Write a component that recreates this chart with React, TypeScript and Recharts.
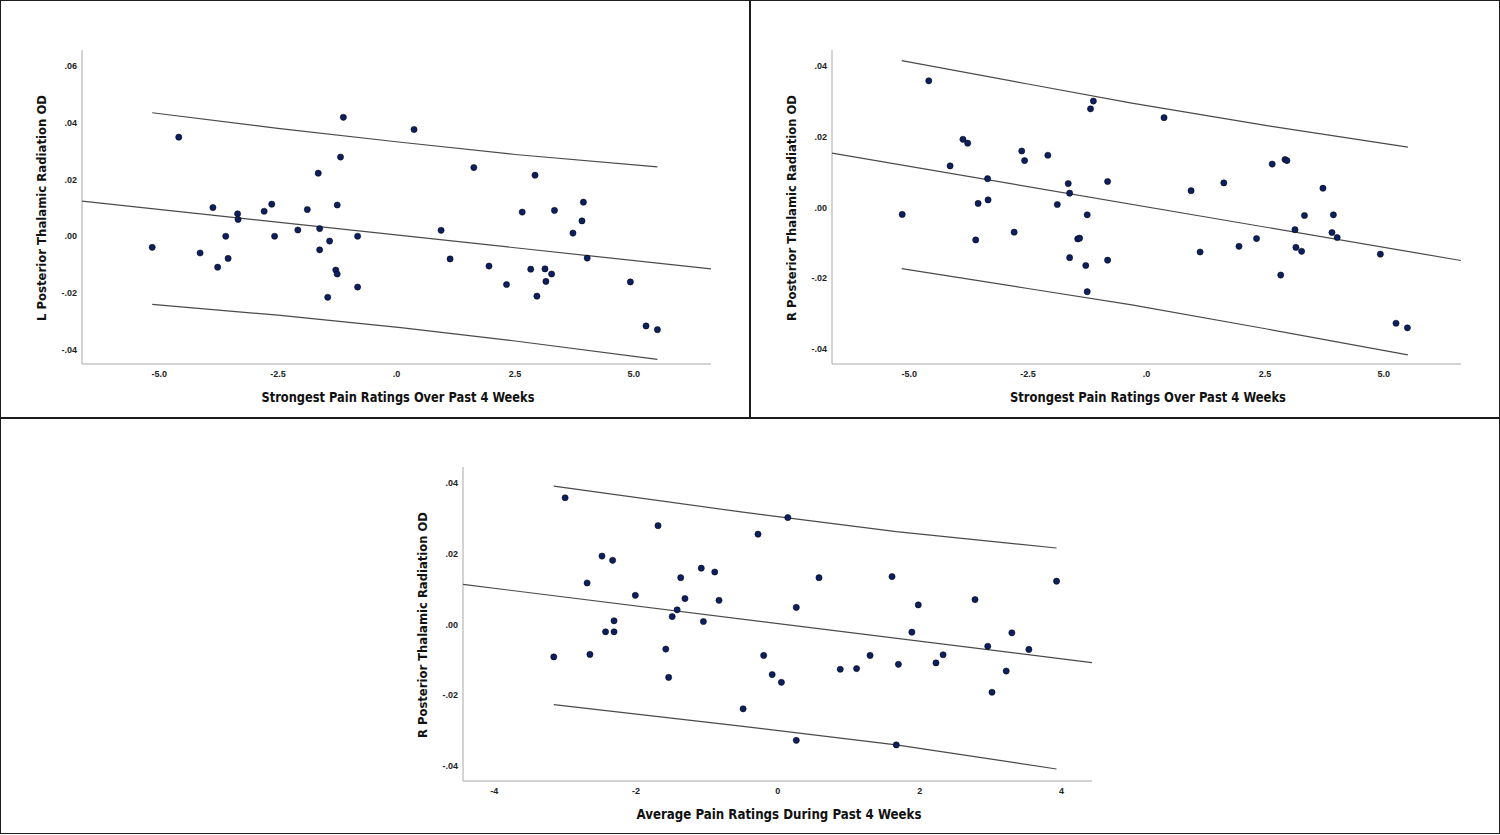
import React from "react";
import { ScatterChart, Scatter, XAxis, YAxis, Label } from "recharts";

// strongest pain ratings (x of both top panels)
const strongestPain = [
  -5.15, -4.59, -4.14, -3.87, -3.77, -3.6, -3.55, -3.35, -3.34, -2.79, -2.63, -2.57,
  -2.08, -1.88, -1.65, -1.62, -1.62, -1.45, -1.41, -1.28, -1.25, -1.25, -1.18, -1.12,
  -0.82, -0.82, 0.37, 0.94, 1.13, 1.63, 1.95, 2.32, 2.65, 2.83, 2.92, 2.96, 3.13, 3.15,
  3.27, 3.33, 3.72, 3.91, 3.94, 4.02, 4.93, 5.26, 5.5,
];
const leftOD = [
  -0.0039, 0.0349, -0.0059, 0.0101, -0.0109, 0.0, -0.0078, 0.0079, 0.0059, 0.0088, 0.0113, 0.0,
  0.0022, 0.0094, 0.0222, 0.0027, -0.0048, -0.0215, -0.0017, -0.0119, -0.0133, 0.011, 0.0279, 0.0419,
  0.0, -0.0179, 0.0376, 0.0021, -0.008, 0.0242, -0.0105, -0.017, 0.0085, -0.0116, 0.0215, -0.0211,
  -0.0115, -0.0159, -0.0133, 0.0091, 0.0011, 0.0054, 0.012, -0.0077, -0.0161, -0.0316, -0.0329,
];
const rightOD = [
  -0.002, 0.0357, 0.0117, 0.0192, 0.0181, -0.0092, 0.0011, 0.0081, 0.0021, -0.007, 0.0159, 0.0132,
  0.0147, 0.0008, 0.0067, 0.004, -0.0142, -0.0089, -0.0087, -0.0164, -0.0238, -0.0021, 0.0278, 0.03,
  0.0073, -0.0149, 0.0253, 0.0047, -0.0126, 0.0069, -0.011, -0.0088, 0.0122, -0.0191, 0.0135, 0.0132,
  -0.0063, -0.0113, -0.0124, -0.0023, 0.0054, -0.0071, -0.0021, -0.0085, -0.0132, -0.0327, -0.034,
];

// average pain ratings (bottom panel)
const averagePain = [
  -3.16, -3.0, -2.69, -2.65, -2.48, -2.43, -2.33, -2.31, -2.31, -2.01, -1.69, -1.58,
  -1.54, -1.49, -1.42, -1.37, -1.31, -1.08, -1.05, -0.89, -0.83, -0.49, -0.28, -0.2,
  -0.08, 0.05, 0.14, 0.26, 0.26, 0.58, 0.88, 1.11, 1.3, 1.61, 1.67, 1.7, 1.89, 1.98,
  2.23, 2.33, 2.78, 2.96, 3.02, 3.22, 3.3, 3.54, 3.93,
];
const rightODAvg = [
  -0.0092, 0.0358, 0.0117, -0.0085, 0.0193, -0.0021, 0.0181, 0.001, -0.0021, 0.0082, 0.0279, -0.007,
  -0.015, 0.0022, 0.0041, 0.0132, 0.0073, 0.0159, 0.0008, 0.0148, 0.0068, -0.0239, 0.0255, -0.0088,
  -0.0142, -0.0164, 0.0302, 0.0048, -0.0328, 0.0132, -0.0127, -0.0125, -0.0088, 0.0135, -0.0341, -0.0113,
  -0.0022, 0.0055, -0.0109, -0.0086, 0.007, -0.0062, -0.0192, -0.0132, -0.0024, -0.0071, 0.0122,
];

// fit lines (ends at the axis limits) and prediction bands
const fitXStrong = [-6.63, 6.63];
const fitLeft = [0.0124, -0.0115];
const fitRight = [0.0153, -0.015];
const fitXAvg = [-4.44, 4.43];
const fitAvg = [0.0113, -0.0108];

const bandXLeft = [-5.15, -2.5, 0.09, 2.5, 5.5];
const upperLeft = [0.0435, 0.038, 0.0331, 0.0288, 0.0244];
const lowerLeft = [-0.024, -0.0278, -0.0322, -0.0369, -0.0434];

const bandXRight = [-5.16, -2.5, -0.31, 2.57, 5.51];
const upperRight = [0.0414, 0.0348, 0.0294, 0.023, 0.017];
const lowerRight = [-0.0173, -0.0229, -0.0275, -0.0344, -0.0416];

const bandXAvg = [-3.16, -0.52, 1.67, 3.93];
const upperAvg = [0.0391, 0.0318, 0.0262, 0.0216];
const lowerAvg = [-0.0227, -0.0288, -0.0341, -0.0409];

const zip = (xs: number[], ys: number[]) => xs.map((x, i) => ({ x, y: ys[i] }));

const fmtY = (v: number) => v.toFixed(2).replace(/^(-?)0\./, "$1.");
const fmtX1 = (v: number) => v.toFixed(1).replace(/^(-?)0\./, "$1.");
const fmtX0 = (v: number) => String(v);

const tickFont = { fontSize: 9, fill: "#222", fontWeight: 700, fontFamily: "'Liberation Sans', Arial, sans-serif" };
const lineColor = "#4a4a4a";

const Dot = (p: any) => <circle cx={p.cx} cy={p.cy} r={3.1} fill="#0c1f5e" stroke="#000" strokeWidth={0.5} />;
const NoDot = () => <g />;

function Panel(props: any) {
  const { left, top, pts, fit, upper, lower, xDomain, yDomain, xTicks, yTicks, xFmt, xTitle, xTitleLen, yTitle } = props;
  return (
    <div style={{ position: "absolute", left, top }}>
      <ScatterChart width={750} height={417} margin={{ top: 50, right: 39, bottom: 0, left: 22 }}>
        <XAxis
          type="number"
          dataKey="x"
          domain={xDomain}
          ticks={xTicks}
          interval={0}
          tickFormatter={xFmt}
          tickLine={false}
          tickSize={4}
          tickMargin={3}
          height={53}
          stroke="#a8a8a8"
          tick={tickFont}
          allowDataOverflow
        >
          <Label
            content={() => (
              <text x={398} y={402} textAnchor="middle" fontSize={14.5} fontWeight={700} fill="#111"
                textLength={xTitleLen} lengthAdjust="spacingAndGlyphs"
                fontFamily="'DejaVu Sans Condensed', 'DejaVu Sans', Arial, sans-serif">
                {xTitle}
              </text>
            )}
          />
        </XAxis>
        <YAxis
          type="number"
          dataKey="y"
          domain={yDomain}
          ticks={yTicks}
          interval={0}
          tickFormatter={fmtY}
          tickLine={false}
          tickSize={2}
          tickMargin={3}
          width={60}
          stroke="#a8a8a8"
          tick={tickFont}
          allowDataOverflow
        >
          <Label
            content={() => (
              <text x={42} y={208} transform="rotate(-90 42 208)" textAnchor="middle" dominantBaseline="central"
                fontSize={11.5} fontWeight={700} fill="#111" textLength={226} lengthAdjust="spacingAndGlyphs"
                fontFamily="'DejaVu Sans', Verdana, sans-serif">
                {yTitle}
              </text>
            )}
          />
        </YAxis>
        <Scatter data={fit} line={{ stroke: lineColor, strokeWidth: 1.2 }} lineType="joint" shape={NoDot} isAnimationActive={false} />
        <Scatter data={upper} line={{ stroke: lineColor, strokeWidth: 1.2 }} lineType="joint" shape={NoDot} isAnimationActive={false} />
        <Scatter data={lower} line={{ stroke: lineColor, strokeWidth: 1.2 }} lineType="joint" shape={NoDot} isAnimationActive={false} />
        <Scatter data={pts} shape={Dot} isAnimationActive={false} />
      </ScatterChart>
    </div>
  );
}

const boxBase: React.CSSProperties = { position: "absolute", boxSizing: "border-box", border: "1.5px solid #1c1c1c" };

export default function App() {
  return (
    <div style={{ position: "absolute", left: 0, top: 0, width: 1500, height: 835, background: "#fff", overflow: "hidden" }}>
      <div style={{ ...boxBase, left: 0, top: 0, width: 751, height: 419 }} />
      <div style={{ ...boxBase, left: 749, top: 0, width: 751, height: 419 }} />
      <div style={{ ...boxBase, left: 0, top: 417, width: 1500, height: 417 }} />
      <Panel
        left={0}
        top={0}
        pts={zip(strongestPain, leftOD)}
        fit={zip(fitXStrong, fitLeft)}
        upper={zip(bandXLeft, upperLeft)}
        lower={zip(bandXLeft, lowerLeft)}
        xDomain={[-6.63, 6.63]}
        yDomain={[-0.045, 0.0656]}
        xTicks={[-5, -2.5, 0, 2.5, 5]}
        yTicks={[-0.04, -0.02, 0, 0.02, 0.04, 0.06]}
        xFmt={fmtX1}
        xTitle="Strongest Pain Ratings Over Past 4 Weeks"
        xTitleLen={273}
        yTitle="L Posterior Thalamic Radiation OD"
      />
      <Panel
        left={750}
        top={0}
        pts={zip(strongestPain, rightOD)}
        fit={zip(fitXStrong, fitRight)}
        upper={zip(bandXRight, upperRight)}
        lower={zip(bandXRight, lowerRight)}
        xDomain={[-6.63, 6.63]}
        yDomain={[-0.0442, 0.0444]}
        xTicks={[-5, -2.5, 0, 2.5, 5]}
        yTicks={[-0.04, -0.02, 0, 0.02, 0.04]}
        xFmt={fmtX1}
        xTitle="Strongest Pain Ratings Over Past 4 Weeks"
        xTitleLen={276}
        yTitle="R Posterior Thalamic Radiation OD"
      />
      <Panel
        left={380.5}
        top={417}
        pts={zip(averagePain, rightODAvg)}
        fit={zip(fitXAvg, fitAvg)}
        upper={zip(bandXAvg, upperAvg)}
        lower={zip(bandXAvg, lowerAvg)}
        xDomain={[-4.44, 4.43]}
        yDomain={[-0.0443, 0.0445]}
        xTicks={[-4, -2, 0, 2, 4]}
        yTicks={[-0.04, -0.02, 0, 0.02, 0.04]}
        xFmt={fmtX0}
        xTitle="Average Pain Ratings During Past 4 Weeks"
        xTitleLen={285}
        yTitle="R Posterior Thalamic Radiation OD"
      />
    </div>
  );
}
